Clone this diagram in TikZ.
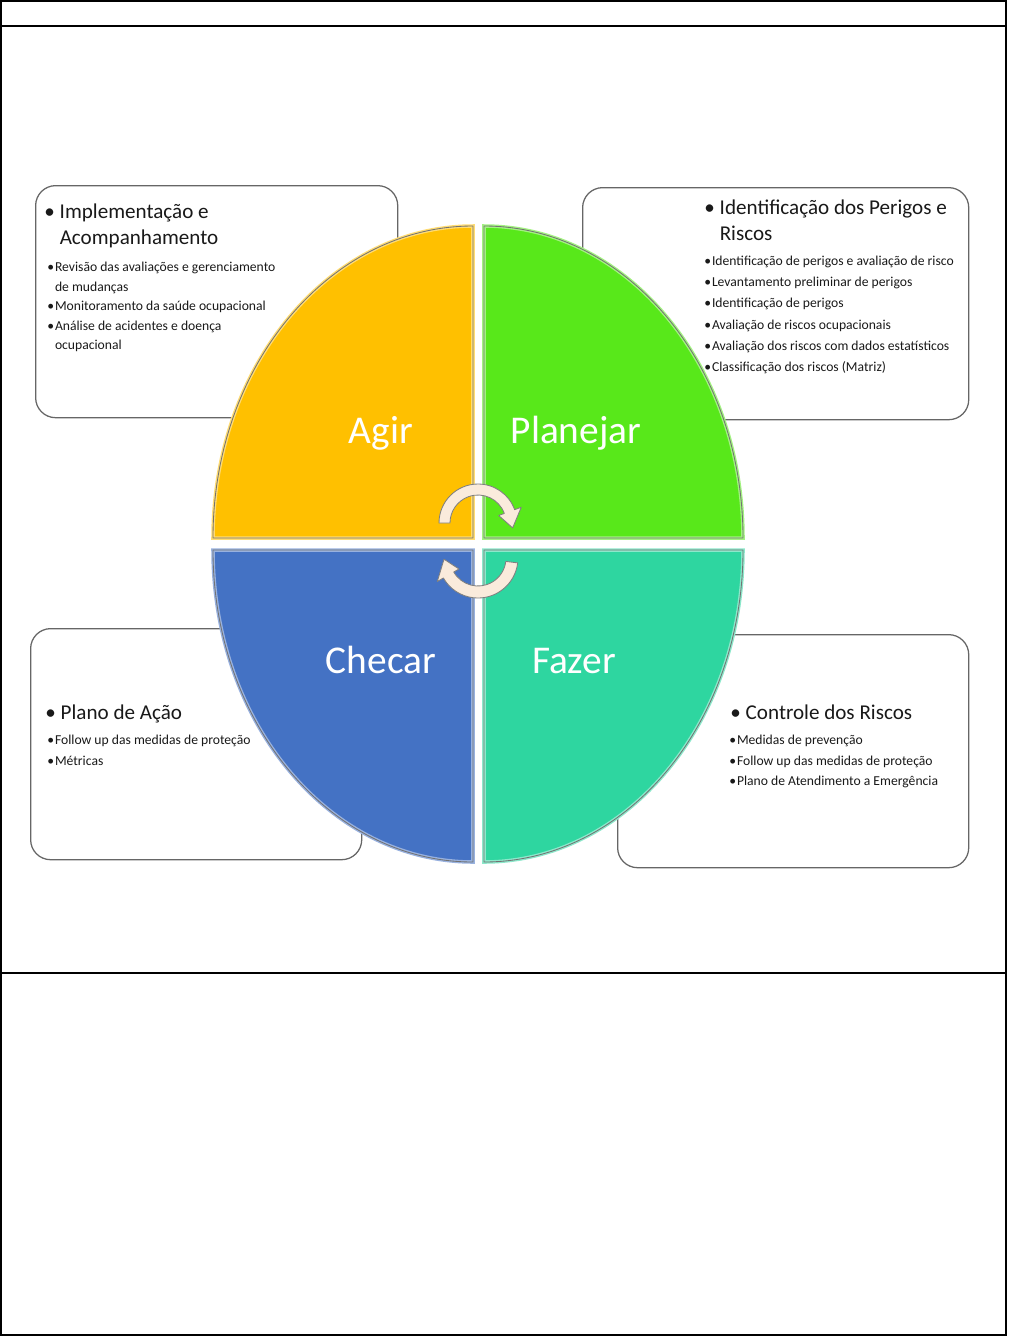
\documentclass[tikz,border=0pt]{standalone}
\usepackage{fontspec}
\setmainfont{Carlito}
\usetikzlibrary{positioning}
\definecolor{agircol}{HTML}{FFC000}
\definecolor{planecol}{HTML}{58E81A}
\definecolor{checacol}{HTML}{4472C4}
\definecolor{fazercol}{HTML}{2ED6A0}
\definecolor{setacol}{HTML}{FAEBDC}
\newcommand{\hb}{\makebox[11pt][l]{\textbullet}}
\newcommand{\hbi}{\hspace*{11pt}}
\newcommand{\sbul}{\makebox[5.5pt][l]{\textbullet}}
\newcommand{\sbi}{\hspace*{5.5pt}}

\begin{document}
\begin{tikzpicture}[x=0.025cm,y=-0.025cm,
  frame/.style={draw=black,line width=0.8pt},
  infobox/.style={draw=black!60,line width=0.9pt,rounded corners=0.5cm,anchor=north west,inner sep=0pt},
  quad/.style={fill=#1,postaction={draw=#1!55!white,line width=2.5pt},postaction={draw=black!55,line width=0.6pt}},
  biglabel/.style={anchor=base,text=white,font=\fontsize{28}{30}\selectfont},
  headtxt/.style={anchor=north west,inner sep=0pt,align=left,text=black!90,font=\fontsize{15}{18.5}\selectfont},
  subtxt/.style={anchor=north west,inner sep=0pt,align=left,text=black!90,font=\fontsize{9.7}{14.6}\selectfont},
  seta/.style={fill=setacol,draw=black!50,line width=0.6pt,line join=round}]
  \useasboundingbox (0,0) rectangle (1008,1337);

  % table frame
  \draw[frame] (1,1) rectangle (1006,1335);
  \draw[frame] (1,26) -- (1006,26);
  \draw[frame] (1,973) -- (1006,973);

  % text boxes
  \node[infobox,minimum width=9.05cm,minimum height=5.8cm] (boxact) at (35,185) {};
  \node[infobox,minimum width=9.65cm,minimum height=5.8cm] (boxplan) at (582,187) {};
  \node[infobox,minimum width=8.275cm,minimum height=5.775cm] (boxcheck) at (30,628) {};
  \node[infobox,minimum width=8.775cm,minimum height=5.825cm] (boxdo) at (617,634) {};

  % PDCA circle
  \path[quad=agircol] (473,538) -- (213,538) arc[start angle=180,end angle=270,x radius=260,y radius=312] -- cycle;
  \path[quad=planecol] (484,538) -- (484,226) arc[start angle=270,end angle=360,x radius=259,y radius=312] -- cycle;
  \path[quad=checacol] (473,550) -- (473,862) arc[start angle=90,end angle=180,x radius=260,y radius=312] -- cycle;
  \path[quad=fazercol] (484,550) -- (743,550) arc[start angle=0,end angle=90,x radius=259,y radius=312] -- cycle;

  \node[biglabel] (agir) at (381,443) {Agir};
  \node[biglabel] (planejar) at (576,443) {Planejar};
  \node[biglabel] (checar) at (381,673) {Checar};
  \node[biglabel] (fazer) at (574,673) {Fazer};

  % cycle arrows
  \begin{scope}[shift={(478,523)}]
    \path[seta] (180:39) arc[start angle=180,end angle=340,radius=39] -- (340:46) -- (8:35) -- (340:22) -- (340:28) arc[start angle=340,end angle=180,radius=28] -- cycle;
  \end{scope}
  \begin{scope}[shift={(478,558)}]
    \path[seta] (7:40) arc[start angle=7,end angle=150,radius=40] -- (150:47) -- (178:34) -- (150:22) -- (150:28) arc[start angle=150,end angle=7,radius=28] -- cycle;
  \end{scope}

  % box texts
  \node[headtxt] (acthead) at (44,204) {\hb Implementação e\\\hbi Acompanhamento};
  \node[subtxt,font=\fontsize{9.7}{13.9}\selectfont] (actlist) at (47,262) {\sbul Revisão das avaliações e gerenciamento\\\sbi de mudanças\\\sbul Monitoramento da saúde ocupacional\\\sbul Análise de acidentes e doença\\\sbi ocupacional};

  \node[headtxt] (planhead) at (704,200) {\hb Identificação dos Perigos e\\\hbi Riscos};
  \node[subtxt,font=\fontsize{9.7}{15}\selectfont] (planlist) at (704,256) {\sbul Identificação de perigos e avaliação de risco\\\sbul Levantamento preliminar de perigos\\\sbul Identificação de perigos\\\sbul Avaliação de riscos ocupacionais\\\sbul Avaliação dos riscos com dados estatísticos\\\sbul Classificação dos riscos (Matriz)};

  \node[headtxt] (checkhead) at (45,705) {\hb Plano de Ação};
  \node[subtxt] (checklist) at (47,735) {\sbul Follow up das medidas de proteção\\\sbul Métricas};

  \node[headtxt] (dohead) at (730,705) {\hb Controle dos Riscos};
  \node[subtxt] (dolist) at (729,735) {\sbul Medidas de prevenção\\\sbul Follow up das medidas de proteção\\\sbul Plano de Atendimento a Emergência};
\end{tikzpicture}
\end{document}
